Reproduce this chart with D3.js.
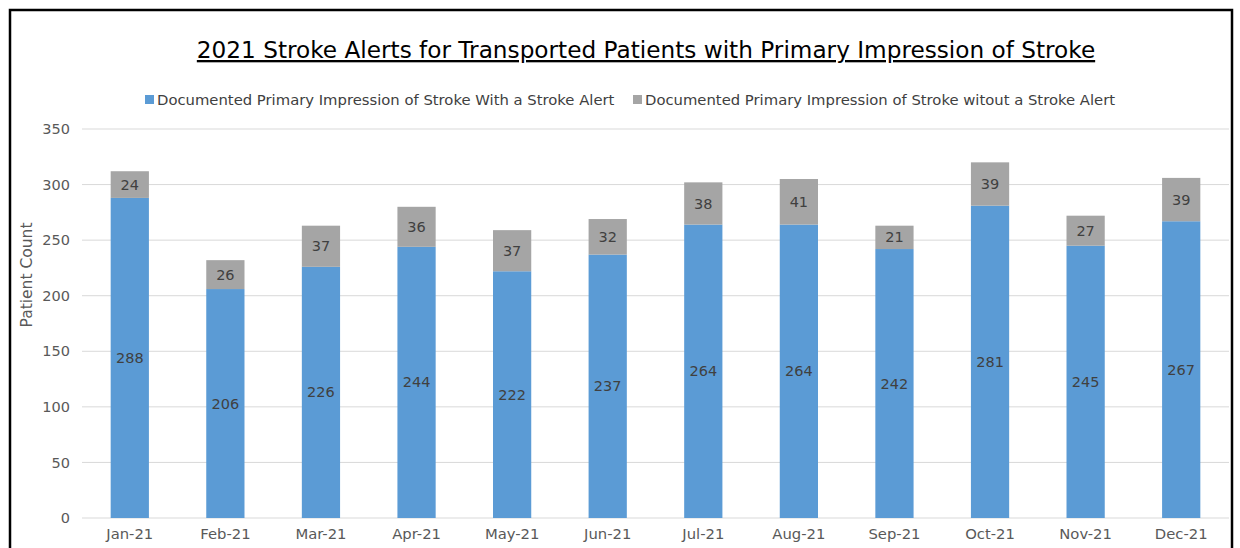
<!DOCTYPE html>
<html><head><meta charset="utf-8">
<script src="https://cdn.jsdelivr.net/npm/d3@7"></script>
<style>body{margin:0;background:#fff;} svg{display:block;font-family:"DejaVu Sans",Verdana,sans-serif;}</style>
</head><body>
<svg id="c" width="1240" height="548"></svg>
<script>
const categories = ["Jan-21","Feb-21","Mar-21","Apr-21","May-21","Jun-21","Jul-21","Aug-21","Sep-21","Oct-21","Nov-21","Dec-21"];
const withAlert = [288,206,226,244,222,237,264,264,242,281,245,267];
const withoutAlert = [24,26,37,36,37,32,38,41,21,39,27,39];
const seriesNames = ["Documented Primary Impression of Stroke With a Stroke Alert","Documented Primary Impression of Stroke witout a Stroke Alert"];
const yTicks = [0,50,100,150,200,250,300,350];
const colors = ["#5B9BD5","#A5A5A5"];

const svg = d3.select("#c");
svg.append("rect").attr("x",10).attr("y",10).attr("width",1222).attr("height",560)
  .attr("fill","none").attr("stroke","#000").attr("stroke-width",2.5);

const m = {left:82, right:1229, top:129, bottom:518};
const x = d3.scaleBand().domain(categories).range([m.left,m.right]).paddingInner(0.6).paddingOuter(0.3);
const y = d3.scaleLinear().domain([0,350]).range([m.bottom,m.top]);

// grid
svg.append("g").selectAll("line").data(yTicks).join("line")
  .attr("x1",m.left).attr("x2",m.right).attr("y1",d=>y(d)).attr("y2",d=>y(d))
  .attr("stroke","#d9d9d9").attr("stroke-width",1);

// y axis labels
const yAxis = svg.append("g").attr("transform",`translate(${m.left-12},0)`)
  .call(d3.axisLeft(y).tickValues(yTicks).tickSize(0).tickPadding(0));
yAxis.select(".domain").remove();
yAxis.selectAll("text").attr("font-size",14.5).attr("fill","#595959").attr("font-family","DejaVu Sans");

// x axis labels
const xAxis = svg.append("g").attr("transform",`translate(0,${m.bottom+10})`)
  .call(d3.axisBottom(x).tickSize(0).tickPadding(0));
xAxis.select(".domain").remove();
xAxis.selectAll("text").attr("font-size",14.8).attr("fill","#595959").attr("font-family","DejaVu Sans").attr("dy","0.71em");

const data = categories.map((c,i)=>({c, a:withAlert[i], b:withoutAlert[i]}));
const stack = d3.stack().keys(["a","b"])(data);

const g = svg.append("g");
stack.forEach((s,si)=>{
  g.append("g").selectAll("rect").data(s).join("rect")
    .attr("x",d=>x(d.data.c)).attr("width",x.bandwidth())
    .attr("y",d=>y(d[1])).attr("height",d=>y(d[0])-y(d[1]))
    .attr("fill",colors[si]);
  g.append("g").selectAll("text").data(s).join("text")
    .attr("x",d=>x(d.data.c)+x.bandwidth()/2)
    .attr("y",d=>(y(d[0])+y(d[1]))/2)
    .attr("dy","0.35em").attr("text-anchor","middle")
    .attr("font-size",14.5).attr("fill","#404040")
    .text(d=>d[1]-d[0]);
});

// title
svg.append("text").attr("x",646).attr("y",58).attr("text-anchor","middle")
  .attr("font-size",23.2).attr("fill","#000").attr("text-decoration","underline")
  .text("2021 Stroke Alerts for Transported Patients with Primary Impression of Stroke");

// legend
const legX = [145, 633];
seriesNames.forEach((n,i)=>{
  svg.append("rect").attr("x",legX[i]).attr("y",95).attr("width",9).attr("height",9).attr("fill",colors[i]);
  svg.append("text").attr("x",legX[i]+12).attr("y",100).attr("dy","0.35em")
    .attr("font-size",14.8).attr("fill","#404040").text(n);
});

// y title
svg.append("text").attr("transform",`translate(32,275) rotate(-90)`)
  .attr("text-anchor","middle").attr("font-size",15.5).attr("fill","#595959").text("Patient Count");
</script>
</body></html>
